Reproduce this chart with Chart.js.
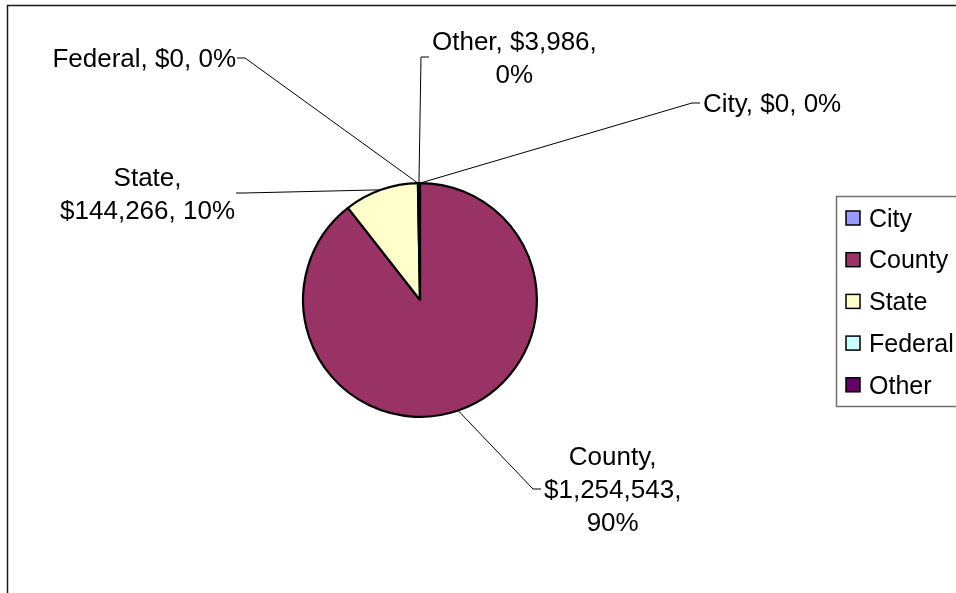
<!DOCTYPE html>
<html>
<head>
<meta charset="utf-8">
<script src="https://cdn.jsdelivr.net/npm/chart.js@4.4.1/dist/chart.umd.min.js"></script>
<style>
  html, body { margin: 0; padding: 0; background: #fff; }
  #wrap { width: 956px; height: 593px; position: relative; }
</style>
</head>
<body>
<div id="wrap"><canvas id="chart"></canvas></div>
<script>
// Funding sources
const categories = ['City', 'County', 'State', 'Federal', 'Other'];
const amounts = [0, 1254543, 144266, 0, 3986];
const sliceColors = ['#9999FF', '#993366', '#FFFFCC', '#CCFFFF', '#660066'];

// where each data label hangs, relative to the pie centre
const labelSpots = [
  { side: 'left', dx: 280, dy: -197, wrap: 400 },
  { side: 'left', dx: 121, dy: 189, wrap: 145 },
  { side: 'right', dx: -184, dy: -107, wrap: 184 },
  { side: 'right', dx: -183, dy: -242, wrap: 400 },
  { side: 'left', dx: 9, dy: -243, wrap: 180 }
];

const FONT_SIZE = 26;
const FONT = FONT_SIZE + 'px "Liberation Sans", Arial, sans-serif';
const LINE_H = 33;

// Excel style: round so the slices add up to 100
function roundedPercents(vals) {
  const total = vals.reduce((a, b) => a + b, 0);
  const raw = vals.map(v => v / total * 100);
  const out = raw.map(Math.floor);
  const left = 100 - out.reduce((a, b) => a + b, 0);
  const order = raw.map((r, i) => [r - Math.floor(r), i]).sort((a, b) => b[0] - a[0]);
  for (let k = 0; k < left; k++) out[order[k][1]]++;
  return out;
}

function wrapWords(ctx, text, maxW) {
  const words = text.split(' ');
  const lines = [];
  let cur = '';
  words.forEach(w => {
    const test = cur ? cur + ' ' + w : w;
    if (cur && ctx.measureText(test).width > maxW) {
      lines.push(cur);
      cur = w;
    } else {
      cur = test;
    }
  });
  if (cur) lines.push(cur);
  return lines;
}

const extras = {
  id: 'extras',
  beforeDraw(chart) {
    const ctx = chart.ctx;
    ctx.save();
    ctx.strokeStyle = '#1a1a1a';
    ctx.lineWidth = 1.5;
    ctx.strokeRect(7.5, 5.5, chart.width + 20, chart.height + 20);
    ctx.restore();
  },
  afterDatasetsDraw(chart) {
    const ctx = chart.ctx;
    const meta = chart.getDatasetMeta(0);
    const pcts = roundedPercents(amounts);
    ctx.save();
    ctx.font = FONT;
    ctx.fillStyle = '#000';
    ctx.strokeStyle = '#000';
    ctx.lineWidth = 1;

    meta.data.forEach((arc, i) => {
      const spot = labelSpots[i];
      const mid = (arc.startAngle + arc.endAngle) / 2;
      const px = arc.x + Math.cos(mid) * arc.outerRadius;
      const py = arc.y + Math.sin(mid) * arc.outerRadius;
      const ax = arc.x + spot.dx;
      const ay = arc.y + spot.dy;
      const ex = spot.side === 'left' ? ax - 8 : ax + 8;

      ctx.beginPath();
      ctx.moveTo(px, py);
      ctx.lineTo(ex, ay);
      ctx.lineTo(ax, ay);
      ctx.stroke();

      const text = categories[i] + ', $' + amounts[i].toLocaleString('en-US') + ', ' + pcts[i] + '%';
      const lines = wrapWords(ctx, text, spot.wrap);
      const blockW = Math.max(...lines.map(l => ctx.measureText(l).width));
      const cx = spot.side === 'left' ? ax + 3 + blockW / 2 : ax - 1 - blockW / 2;
      ctx.textAlign = 'center';
      ctx.textBaseline = 'alphabetic';
      lines.forEach((l, k) => {
        const yy = ay + (k - (lines.length - 1) / 2) * LINE_H;
        ctx.fillText(l, cx, yy + FONT_SIZE * 0.35);
      });
    });

    // legend box
    const lx = 836, ly = 196, rowH = 41.7;
    ctx.strokeStyle = '#707070';
    ctx.lineWidth = 1.5;
    ctx.strokeRect(lx + 0.5, ly + 0.5, 200, 210);
    ctx.textAlign = 'left';
    ctx.font = '25px "Liberation Sans", Arial, sans-serif';
    categories.forEach((c, i) => {
      const cy = ly + 22 + i * rowH;
      ctx.fillStyle = sliceColors[i];
      ctx.fillRect(lx + 10, cy - 7, 14, 14);
      ctx.strokeStyle = '#000';
      ctx.lineWidth = 1.5;
      ctx.strokeRect(lx + 10, cy - 7, 14, 14);
      ctx.fillStyle = '#000';
      ctx.fillText(c, lx + 33, cy + 25 * 0.35);
    });
    ctx.restore();
  }
};

new Chart(document.getElementById('chart'), {
  type: 'pie',
  data: {
    labels: categories,
    datasets: [{
      data: amounts,
      backgroundColor: sliceColors,
      borderColor: '#000',
      borderWidth: 2.2
    }]
  },
  options: {
    responsive: true,
    maintainAspectRatio: false,
    animation: false,
    events: [],
    layout: { padding: { left: 302, top: 182, right: 418, bottom: 175 } },
    plugins: {
      legend: { display: false },
      tooltip: { enabled: false }
    }
  },
  plugins: [extras]
});
</script>
</body>
</html>
